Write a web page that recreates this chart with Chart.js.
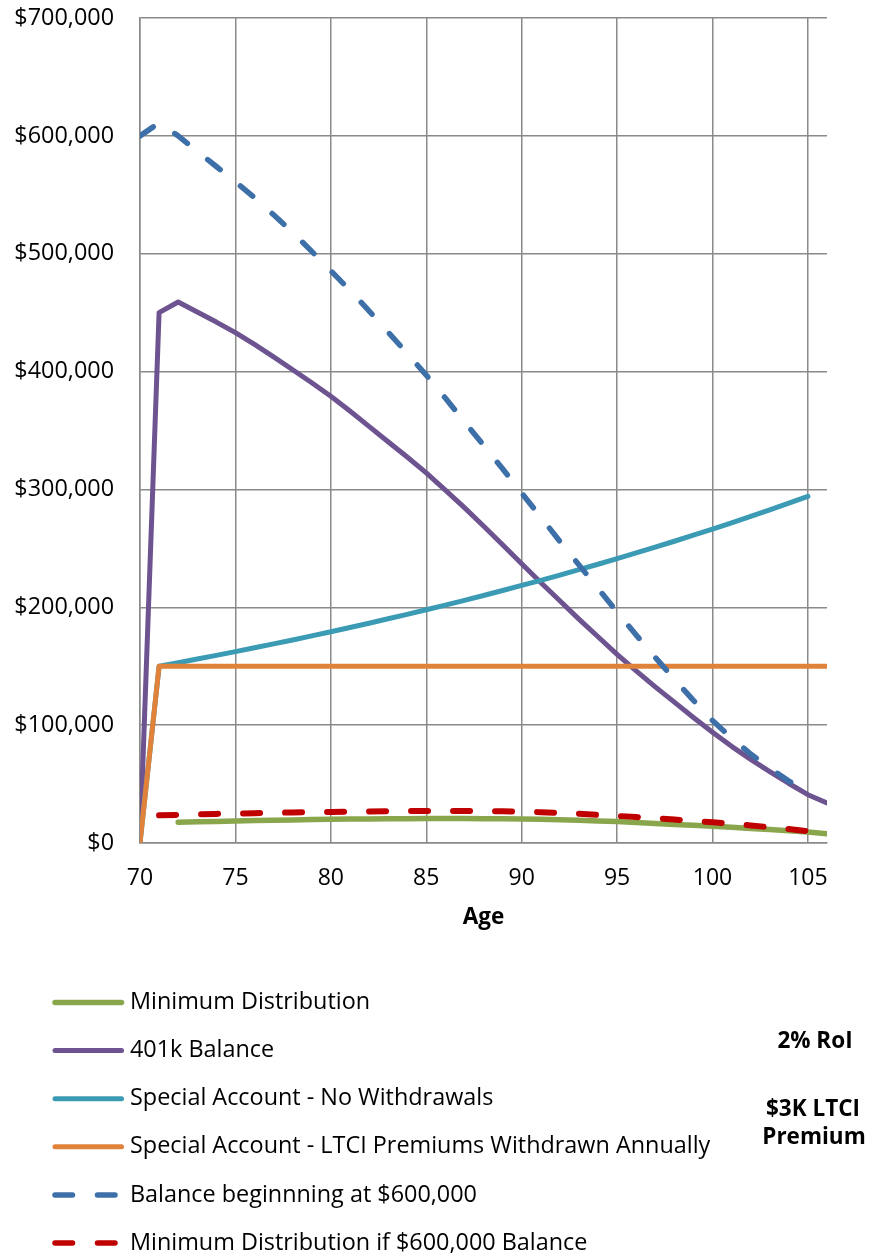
<!DOCTYPE html>
<html>
<head>
<meta charset="utf-8">
<script src="https://cdn.jsdelivr.net/npm/chart.js@4.4.1/dist/chart.umd.min.js"></script>
<style>
  html, body { margin: 0; padding: 0; background: #ffffff; }
  #wrap { width: 872px; height: 1257px; position: relative; }
</style>
</head>
<body>
<div id="wrap"><canvas id="chart" width="872" height="1257"></canvas></div>
<script>
// Ages 70..106, one entry per year (null = no value that year)
const ages = [70,71,72,73,74,75,76,77,78,79,80,81,82,83,84,85,86,87,88,89,90,
              91,92,93,94,95,96,97,98,99,100,101,102,103,104,105,106];

const minDistribution = [null,null,17700,18000,18300,18700,19000,19300,19600,19900,20100,
  20300,20400,20500,20600,20700,20700,20700,20600,20500,20400,
  20100,19700,19200,18700,18200,17400,16600,15800,15000,14200,
  13300,12400,11400,10400,9300,7800];

const balance401k = [0,450000,459000,450500,442000,433000,423000,412500,401500,390500,379000,
  366500,353500,340500,327500,314000,299500,284500,269000,253000,237000,
  221000,205500,190000,175000,160000,146000,132500,119500,106500,94000,
  82000,71000,60500,50500,41000,34000];

const specialNoWithdrawals = [0,150000,153000,156060,159181,162365,165612,168924,172303,175749,179264,
  182849,186506,190236,194041,197922,201880,205918,210036,214237,218522,
  222892,227350,231897,236535,241266,246091,251013,256033,261154,266377,
  271705,277139,282682,288335,294102,null];

const specialLtciWithdrawn = [0,150000,150000,150000,150000,150000,150000,150000,150000,150000,150000,
  150000,150000,150000,150000,150000,150000,150000,150000,150000,150000,
  150000,150000,150000,150000,150000,150000,150000,150000,150000,150000,
  150000,150000,150000,150000,150000,150000];

const balance600k = [600000,611000,600000,587000,574000,561000,547500,533000,518000,502000,485500,
  469000,451500,433500,415500,397000,377500,357500,337500,317500,297000,
  276500,256000,236000,216000,196000,176500,157500,139000,121000,104000,
  89000,75500,63500,52500,43000,null];

const minDistribution600k = [null,23500,23900,24300,24700,25000,25300,25600,25900,26100,26300,
  26600,26800,27000,27100,27200,27200,27200,27100,26900,26600,
  26100,25500,24800,23900,23000,22000,21000,19900,18800,17600,
  16300,14900,13400,11800,10000,null];

const seriesLabels = [
  'Minimum Distribution',
  '401k Balance',
  'Special Account - No Withdrawals',
  'Special Account - LTCI Premiums Withdrawn Annually',
  'Balance beginnning at $600,000',
  'Minimum Distribution if $600,000 Balance'
];

const yTickValues = [0,100000,200000,300000,400000,500000,600000,700000];
const xTickValues = [70,75,80,85,90,95,100,105];
const sideNotes = ['2% RoI', '$3K LTCI', 'Premium'];

function points(values) {
  const out = [];
  values.forEach((v, i) => { if (v !== null) out.push({ x: ages[i], y: v }); });
  return out;
}

const FONT = "'Open Sans', 'DejaVu Sans', sans-serif";
Chart.defaults.font.family = FONT;
Chart.defaults.color = '#000000';

const styles = [
  { color: '#8AA64D', width: 5.5, dash: [] },
  { color: '#6D5490', width: 5,   dash: [] },
  { color: '#3C9BB4', width: 5,   dash: [] },
  { color: '#E0823A', width: 5,   dash: [] },
  { color: '#3D6FA8', width: 5.5, dash: [16, 26] },
  { color: '#C00000', width: 6,   dash: [17, 25] }
];

const seriesValues = [minDistribution, balance401k, specialNoWithdrawals,
                      specialLtciWithdrawn, balance600k, minDistribution600k];

const datasets = seriesValues.map((vals, i) => ({
  label: seriesLabels[i],
  data: points(vals),
  borderColor: styles[i].color,
  backgroundColor: styles[i].color,
  borderWidth: styles[i].width,
  borderDash: styles[i].dash,
  borderCapStyle: 'round',
  borderJoinStyle: 'round',
  pointRadius: 0,
  tension: 0,
  fill: false,
  order: seriesValues.length - i
}));

// Legend rows below the plot plus the side notes
const legendPlugin = {
  id: 'bottomLegend',
  afterDraw(chart) {
    const ctx = chart.ctx;
    ctx.save();
    const rowY0 = 1002.5, rowGap = 48.1;
    chart.data.datasets.forEach((ds, i) => {
      const y = rowY0 + i * rowGap;
      ctx.beginPath();
      ctx.strokeStyle = ds.borderColor;
      ctx.lineWidth = Math.min(ds.borderWidth, 5.5);
      ctx.lineCap = 'round';
      ctx.setLineDash(ds.borderDash && ds.borderDash.length ? [17.5, 25] : []);
      ctx.moveTo(55, y);
      ctx.lineTo(121.5, y);
      ctx.stroke();
      ctx.setLineDash([]);
      ctx.fillStyle = '#000000';
      ctx.font = "23.4px " + FONT;
      ctx.textAlign = 'left';
      ctx.textBaseline = 'middle';
      ctx.fillText(ds.label, 130, y);
    });
    ctx.font = "bold 22.5px " + FONT;
    ctx.textAlign = 'center';
    ctx.textBaseline = 'middle';
    ctx.fillText(sideNotes[0], 815, 1042);
    ctx.fillText(sideNotes[1], 813, 1110);
    ctx.fillText(sideNotes[2], 814, 1138);
    ctx.restore();
  }
};

const gridColor = '#8A8A8A';

// keep tick-label overhang from pushing the plot area inward
function noLabelPadding(scale) {
  scale.paddingTop = 0;
  scale.paddingBottom = 0;
  scale.paddingLeft = 0;
  scale.paddingRight = 0;
}

new Chart(document.getElementById('chart').getContext('2d'), {
  type: 'line',
  data: { datasets },
  options: {
    responsive: false,
    animation: false,
    events: [],
    layout: { padding: { left: 0, top: 18, right: 45, bottom: 326 } },
    plugins: { legend: { display: false }, tooltip: { enabled: false } },
    scales: {
      x: {
        type: 'linear',
        min: 70,
        max: 106,
        afterBuildTicks: (scale) => { scale.ticks = xTickValues.map(v => ({ value: v })); },
        afterFit: (scale) => { scale.height = 88; noLabelPadding(scale); },
        ticks: { padding: 22, font: { size: 23 }, color: '#000000' },
        grid: { color: gridColor, lineWidth: 1.5, drawTicks: false },
        border: { color: gridColor, width: 1.5 },
        title: { display: true, text: 'Age', font: { size: 22.5, weight: 'bold' }, padding: { top: 0, bottom: 0 }, color: '#000000' }
      },
      y: {
        type: 'linear',
        min: 0,
        max: 700000,
        afterBuildTicks: (scale) => { scale.ticks = yTickValues.map(v => ({ value: v })); },
        afterFit: (scale) => { scale.width = 140; noLabelPadding(scale); },
        ticks: {
          padding: 26,
          font: { size: 23.4 },
          color: '#000000',
          callback: (v) => '$' + Number(v).toLocaleString('en-US')
        },
        grid: { color: gridColor, lineWidth: 1.5, drawTicks: false },
        border: { color: gridColor, width: 1.5 }
      }
    }
  },
  plugins: [legendPlugin]
});
</script>
</body>
</html>
